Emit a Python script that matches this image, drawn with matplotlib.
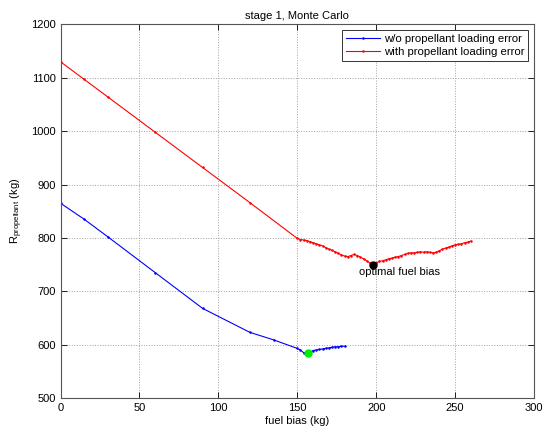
import matplotlib
matplotlib.use("Agg")
import matplotlib.pyplot as plt

plt.rcParams['font.family'] = ['Liberation Sans', 'DejaVu Sans']
plt.rcParams['font.size'] = 8

# Fuel bias (kg) vs propellant reserve (kg)
blue_x = [0, 15, 30, 60, 90, 120, 135, 150, 152, 154, 156, 158,
          160, 162, 164, 166, 168, 170, 172, 174, 176, 178, 180]
blue_y = [865, 835, 802, 735, 668, 623, 609, 593, 590, 585, 583,
          586, 589, 590, 591, 592, 593, 594, 595, 596, 596, 597, 597]

red_x = [0, 15, 30, 60, 90, 120,
         150, 152, 154, 156, 158, 160, 162, 164, 166, 168, 170, 172, 174, 176,
         178, 180, 182, 184, 186, 188, 190, 192, 194, 196, 198, 200, 202, 204,
         206, 208, 210, 212, 214, 216, 218, 220, 222, 224, 226, 228, 230, 232,
         234, 236, 238, 240, 242, 244, 246, 248, 250, 252, 254, 256, 258, 260]
red_y = [1130, 1097, 1064, 998, 932, 866,
         799, 797, 796, 795, 793, 791, 789, 787, 785, 782, 779, 777, 774, 771,
         768, 766, 765, 767, 769, 767, 764, 761, 757, 753, 750, 753, 756, 757,
         759, 761, 762, 764, 765, 767, 769, 771, 772, 772, 773, 774, 773, 774,
         773, 772, 773, 776, 779, 781, 783, 785, 787, 788, 789, 791, 792, 794]

opt_blue = (156.5, 584)
opt_red = (198, 750)

fig = plt.figure(figsize=(5.5, 4.28), dpi=100)
ax = fig.add_axes([0.11, 0.07, 0.861, 0.873])

ax.plot(blue_x, blue_y, color='blue', lw=0.8, marker='.', ms=1.6,
        label='w/o propellant loading error')
ax.plot(red_x, red_y, color='red', lw=0.8, marker='.', ms=1.6,
        label='with propellant loading error')
ax.plot(*opt_blue, 'o', color='#00ee00', ms=5)
ax.plot(*opt_red, 'o', color='black', ms=5)
ax.text(opt_red[0] + 17, opt_red[1] - 14, 'optimal fuel bias',
        ha='center', va='center', fontsize=8)

ax.set_xlim(0, 300)
ax.set_ylim(500, 1200)
ax.set_xticks(range(0, 301, 50))
ax.set_yticks(range(500, 1201, 100))
ax.grid(True, linestyle=':', color='#a0a0a0', lw=0.7)
ax.tick_params(direction='in', top=True, right=True, length=4, width=0.6)
for s in ax.spines.values():
    s.set_color('#555555')
    s.set_linewidth(0.8)

ax.set_title('stage 1, Monte Carlo', fontsize=8, pad=4)
ax.set_xlabel('fuel bias (kg)', labelpad=2)
ax.set_ylabel(r'R$_{\mathregular{propellant}}$ (kg)', labelpad=4)

leg = ax.legend(loc='upper right', fancybox=False, framealpha=1,
                edgecolor='#333333', borderaxespad=0.5, handlelength=3.0,
                handletextpad=0.3, borderpad=0.35, labelspacing=0.25,
                prop={'size': 8.2})
leg.get_frame().set_linewidth(0.7)

fig.savefig('out.png', dpi=100, facecolor='white')
